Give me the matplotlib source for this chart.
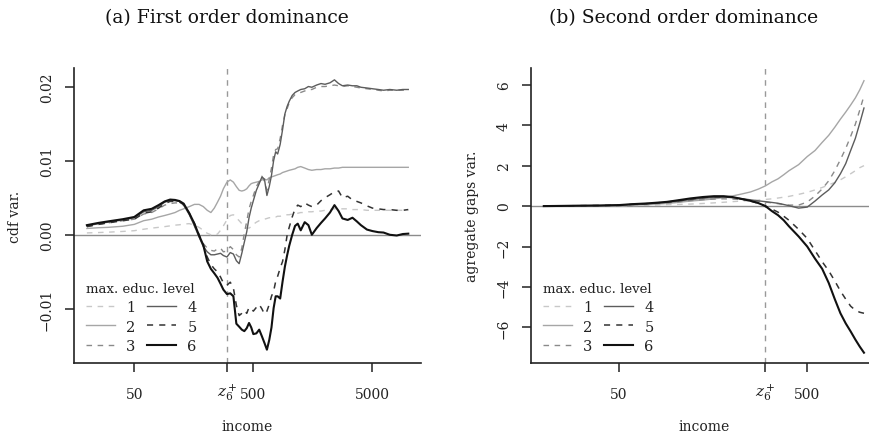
import numpy as np
import matplotlib.pyplot as plt
from matplotlib.transforms import ScaledTranslation

plt.rcParams['font.family'] = ['DejaVu Serif']
plt.rcParams['mathtext.fontset'] = 'dejavuserif'

# ---- panel (a): cdf variation (values in units of 1e-3) ----
income_a = [20, 25, 30, 40, 50, 60, 70, 80, 90, 100, 110, 120, 130, 145, 160,
            175, 190, 205, 220, 235, 250, 265, 280, 300, 320, 340, 360, 380, 400, 420,
            440, 460, 480, 500, 530, 560, 590, 620, 650, 680, 710, 740, 770, 800, 840,
            880, 920, 960, 1000, 1060, 1120, 1180, 1250, 1350, 1450, 1550, 1700, 1850, 2000, 2200,
            2400, 2600, 2800, 3100, 3400, 3700, 4000, 4500, 5000, 5600, 6200, 7000, 8000, 9000, 10000]

cdf1 = [0.25, 0.3, 0.35, 0.45, 0.55, 0.75, 0.9, 1.0, 1.1, 1.2, 1.3, 1.35, 1.45, 1.5, 1.3,
        1.0, 0.6, 0.2, 0.0, -0.1, 0.1, 0.6, 1.2, 2.0, 2.6, 2.7, 2.3, 1.9, 1.5, 1.1,
        0.9, 0.9, 1.1, 1.4, 1.7, 1.9, 2.0, 2.1, 2.2, 2.3, 2.3, 2.4, 2.4, 2.5, 2.5,
        2.6, 2.6, 2.7, 2.7, 2.8, 2.9, 2.9, 3.0, 3.0, 3.1, 3.1, 3.2, 3.2, 3.3, 3.4,
        3.5, 3.5, 3.5, 3.5, 3.4, 3.4, 3.4, 3.3, 3.3, 3.3, 3.3, 3.3, 3.3, 3.3, 3.3]
cdf2 = [0.85, 0.95, 1.0, 1.15, 1.4, 1.9, 2.1, 2.4, 2.6, 2.8, 3.0, 3.3, 3.5, 3.8, 4.1,
        4.1, 3.8, 3.3, 3.0, 3.6, 4.4, 5.2, 6.2, 7.1, 7.4, 7.1, 6.5, 6.0, 5.9, 6.0,
        6.2, 6.6, 6.9, 7.0, 7.1, 7.2, 7.4, 7.5, 7.4, 7.7, 7.8, 7.9, 8.0, 8.1, 8.2,
        8.4, 8.5, 8.6, 8.7, 8.8, 8.9, 9.1, 9.2, 9.0, 8.8, 8.7, 8.8, 8.8, 8.9, 8.9,
        9.0, 9.0, 9.1, 9.1, 9.1, 9.1, 9.1, 9.1, 9.1, 9.1, 9.1, 9.1, 9.1, 9.1, 9.1]
cdf3 = [1.1, 1.4, 1.6, 1.9, 2.1, 2.8, 3.0, 3.5, 4.0, 4.2, 4.3, 4.3, 4.0, 2.8, 1.2,
        -0.2, -1.2, -1.8, -2.1, -2.2, -1.9, -1.8, -2.3, -2.2, -1.6, -2.0, -2.7, -3.0, -1.8, 0.2,
        1.8, 3.5, 4.5, 5.3, 6.5, 7.2, 7.9, 7.2, 6.0, 7.5, 9.0, 10.8, 11.5, 11.6, 13.0,
        14.8, 16.2, 17.0, 17.8, 18.5, 18.9, 19.0, 19.2, 19.4, 19.6, 19.6, 19.9, 20.0, 20.0, 20.1,
        20.2, 20.1, 20.0, 20.1, 20.0, 19.9, 19.8, 19.7, 19.6, 19.5, 19.4, 19.5, 19.5, 19.5, 19.6]
cdf4 = [1.2, 1.5, 1.7, 2.0, 2.3, 3.1, 3.3, 3.8, 4.4, 4.6, 4.6, 4.5, 4.0, 2.7, 1.2,
        -0.3, -1.6, -2.3, -2.7, -2.7, -2.6, -2.5, -2.8, -3.0, -2.4, -2.6, -3.5, -3.9, -2.5, -1.0,
        0.4, 2.3, 3.6, 4.6, 6.0, 6.9, 7.8, 7.5, 5.3, 6.5, 8.0, 10.0, 11.2, 10.9, 12.2,
        14.2, 16.3, 17.3, 18.0, 18.8, 19.2, 19.4, 19.6, 19.7, 20.0, 19.9, 20.2, 20.4, 20.3, 20.5,
        20.9, 20.4, 20.1, 20.2, 20.1, 20.1, 19.9, 19.8, 19.7, 19.6, 19.5, 19.6, 19.5, 19.6, 19.6]
cdf5 = [1.1, 1.4, 1.6, 1.9, 2.1, 2.9, 3.1, 3.6, 4.2, 4.5, 4.5, 4.4, 4.1, 2.9, 1.5,
        0.0, -1.4, -3.0, -4.0, -4.6, -5.0, -5.7, -6.5, -6.8, -6.4, -7.2, -9.5, -10.9, -10.6, -10.2,
        -10.6, -9.8, -10.0, -10.3, -9.8, -9.4, -10.0, -10.7, -10.3, -9.4, -8.3, -7.6, -6.3, -5.6, -4.5,
        -3.6, -2.0, -0.1, 1.0, 2.4, 3.5, 4.0, 3.8, 4.3, 4.0, 3.8, 4.0, 4.6, 5.0, 5.4,
        5.8, 5.9, 5.0, 5.2, 4.7, 4.5, 4.3, 3.9, 3.6, 3.5, 3.4, 3.4, 3.3, 3.3, 3.4]
cdf6 = [1.3, 1.6, 1.8, 2.1, 2.4, 3.3, 3.5, 4.0, 4.5, 4.75, 4.7, 4.55, 4.2, 2.9, 1.5,
        -0.1, -1.4, -3.6, -4.6, -5.2, -5.8, -6.6, -7.4, -8.0, -7.9, -8.3, -12.0, -12.4, -12.8, -13.0,
        -12.6, -11.9, -12.5, -13.4, -13.3, -12.8, -13.7, -14.6, -15.5, -14.2, -12.5, -9.9, -8.3, -8.3, -8.6,
        -6.3, -4.3, -2.8, -1.5, 0.0, 1.2, 1.5, 0.6, 1.7, 1.3, 0.0, 0.9, 1.6, 2.2, 3.0,
        4.0, 3.2, 2.2, 2.0, 2.3, 1.8, 1.3, 0.7, 0.5, 0.35, 0.3, 0.0, -0.1, 0.1, 0.15]

# ---- panel (b): aggregate gaps variation ----
income_b = [20, 25, 30, 40, 50, 60, 70, 80, 90, 100, 120, 140, 160, 180, 200,
            225, 250, 275, 300, 325, 350, 375, 400, 450, 500, 550, 600, 650, 700, 750,
            800, 850, 900, 950, 1000]
gap1 = [0.0, 0.0, 0.0, 0.01, 0.02, 0.03, 0.04, 0.05, 0.07, 0.08, 0.1, 0.13, 0.16, 0.19, 0.22,
        0.25, 0.27, 0.3, 0.33, 0.36, 0.4, 0.44, 0.48, 0.58, 0.68, 0.8, 0.92, 1.05, 1.17, 1.3,
        1.45, 1.6, 1.75, 1.9, 2.0]
gap2 = [0.0, 0.0, 0.01, 0.02, 0.03, 0.05, 0.07, 0.1, 0.13, 0.17, 0.25, 0.3, 0.36, 0.42, 0.5,
        0.6, 0.7, 0.84, 1.0, 1.2, 1.35, 1.55, 1.75, 2.05, 2.45, 2.75, 3.15, 3.5, 3.9, 4.3,
        4.65, 5.0, 5.35, 5.75, 6.2]
gap3 = [0.0, 0.01, 0.01, 0.02, 0.04, 0.07, 0.1, 0.13, 0.16, 0.2, 0.27, 0.32, 0.35, 0.36, 0.35,
        0.32, 0.28, 0.24, 0.2, 0.16, 0.12, 0.08, 0.05, 0.05, 0.2, 0.5, 0.85, 1.25, 1.75, 2.3,
        2.85, 3.45, 4.05, 4.75, 5.45]
gap4 = [0.0, 0.01, 0.02, 0.03, 0.05, 0.09, 0.12, 0.15, 0.19, 0.23, 0.32, 0.39, 0.43, 0.44, 0.42,
        0.37, 0.31, 0.26, 0.22, 0.18, 0.14, 0.08, 0.02, -0.1, -0.05, 0.25, 0.55, 0.8, 1.15, 1.6,
        2.1, 2.75, 3.35, 4.1, 4.85]
gap5 = [0.0, 0.01, 0.02, 0.03, 0.05, 0.09, 0.12, 0.16, 0.2, 0.25, 0.35, 0.42, 0.46, 0.46, 0.43,
        0.35, 0.25, 0.14, 0.0, -0.15, -0.3, -0.5, -0.7, -1.15, -1.6, -2.2, -2.75, -3.2, -3.7, -4.2,
        -4.6, -4.95, -5.15, -5.25, -5.3]
gap6 = [0.0, 0.01, 0.02, 0.03, 0.05, 0.1, 0.13, 0.17, 0.21, 0.27, 0.38, 0.45, 0.49, 0.49, 0.45,
        0.35, 0.26, 0.15, 0.0, -0.25, -0.45, -0.7, -1.0, -1.5, -2.0, -2.6, -3.1, -3.8, -4.6, -5.3,
        -5.8, -6.2, -6.6, -6.95, -7.25]

levels = ['1', '2', '3', '4', '5', '6']
z6_plus = 300

colors = ['#c8c8c8', '#a6a6a6', '#8a8a8a', '#5c5c5c', '#333333', '#111111']
dash = (0, (4, 4))
styles = [dash, '-', dash, '-', dash, '-']
widths = [1.0, 1.0, 1.0, 1.0, 1.1, 1.5]

fig = plt.figure(figsize=(8.69, 4.35), dpi=100)
axA = fig.add_axes([0.0852, 0.1632, 0.3993, 0.6782])
axB = fig.add_axes([0.611, 0.1632, 0.398, 0.6782])


def style_axes(ax, xlim, ylim, xticks, xlabels, yticks, ylabels, ylabel):
    ax.set_xscale('log')
    ax.set_xlim(*xlim)
    ax.set_ylim(*ylim)
    ax.set_xticks(xticks)
    ax.set_xticklabels(xlabels)
    ax.minorticks_off()
    ax.set_yticks(yticks)
    ax.set_yticklabels(ylabels, rotation=90, va='center')
    for s in ['top', 'right']:
        ax.spines[s].set_visible(False)
    for s in ['left', 'bottom']:
        ax.spines[s].set_linewidth(1.2)
        ax.spines[s].set_color('#222222')
    ax.tick_params(axis='both', direction='out', length=6.5, width=1.1,
                   color='#222222', labelsize=10, labelcolor='#222222')
    ax.tick_params(axis='x', pad=11)
    ax.tick_params(axis='y', pad=8)
    # lift the z label so its baseline sits with the numbers
    for lab in ax.get_xticklabels():
        if lab.get_text().startswith('$'):
            lab.set_fontsize(11)
            lab.set_transform(lab.get_transform() +
                              ScaledTranslation(0, 4 / 72, fig.dpi_scale_trans))
    ax.set_xlabel('income', fontsize=10, color='#222222')
    ax.xaxis.set_label_coords(0.5, -0.19)
    ax.set_ylabel(ylabel, fontsize=10, color='#222222')
    ax.yaxis.set_label_coords(-0.15, 0.5)
    ax.axhline(0, color='#8c8c8c', lw=1.0, zorder=1)
    ax.axvline(z6_plus, color='#999999', lw=1.0, ls=(0, (4, 4)), zorder=1)


def add_legend(ax, handles, anchor):
    leg = ax.legend(handles, levels, ncol=2, title='max. educ. level',
                    loc='lower left', bbox_to_anchor=anchor, frameon=False,
                    fontsize=10.5, title_fontsize=9.5, handlelength=2.0,
                    handletextpad=0.75, columnspacing=0.8, labelspacing=0.35,
                    borderaxespad=0.0, borderpad=0.0, alignment='left')
    for t in leg.get_texts():
        t.set_color('#222222')
    leg.get_title().set_color('#222222')


# panel (a)
hA = []
for ys, c, st, w in zip([cdf1, cdf2, cdf3, cdf4, cdf5, cdf6], colors, styles, widths):
    ln, = axA.plot(income_a, np.array(ys) / 1000, color=c, ls=st, lw=w, zorder=3)
    hA.append(ln)
style_axes(axA, (15.6, 12800), (-0.0173, 0.0225),
           [50, z6_plus, 500, 5000], ['50', '$z_6^+$', '500', '5000'],
           [-0.01, 0.0, 0.01, 0.02], ['\u22120.01', '0.00', '0.01', '0.02'], 'cdf var.')
add_legend(axA, hA, (0.035, 0.035))

# panel (b)
hB = []
for ys, c, st, w in zip([gap1, gap2, gap3, gap4, gap5, gap6], colors, styles, widths):
    ln, = axB.plot(income_b, ys, color=c, ls=st, lw=w, zorder=3)
    hB.append(ln)
style_axes(axB, (17.1, 1170), (-7.76, 6.83),
           [50, z6_plus, 500], ['50', '$z_6^+$', '500'],
           [-6, -4, -2, 0, 2, 4, 6], ['\u22126', '\u22124', '\u22122', '0', '2', '4', '6'],
           'agregate gaps var.')
add_legend(axB, hB, (0.035, 0.035))

fig.text(227 / 869, 1 - 18 / 435, '(a) First order dominance', ha='center', va='center',
         fontsize=13.5, color='#111111')
fig.text(684 / 869, 1 - 18 / 435, '(b) Second order dominance', ha='center', va='center',
         fontsize=13.5, color='#111111')

fig.savefig('out.png', dpi=100)
